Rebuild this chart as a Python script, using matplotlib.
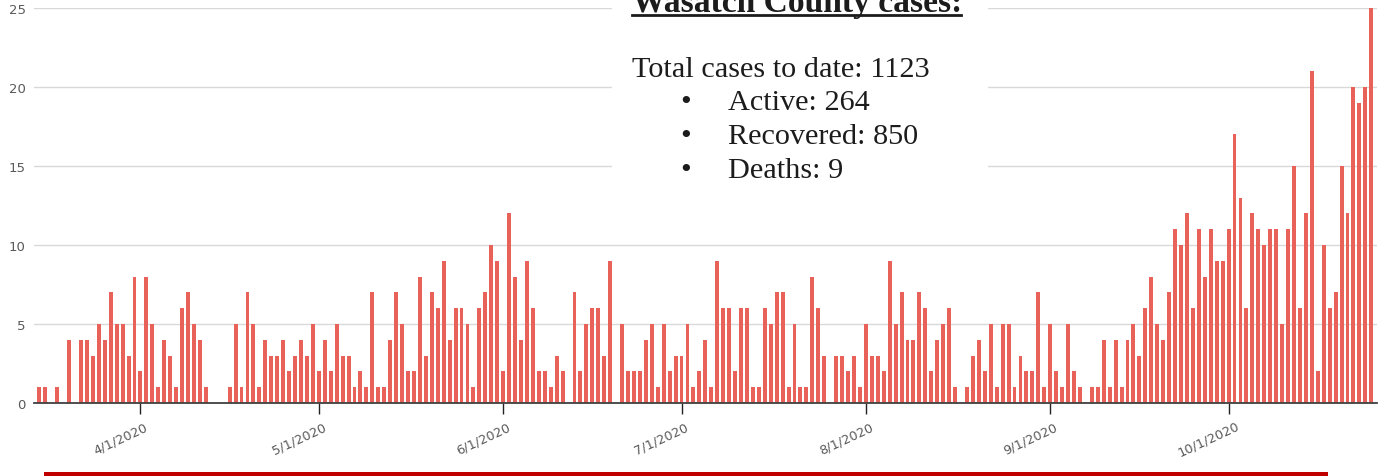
import matplotlib
matplotlib.use("Agg")
import matplotlib.pyplot as plt
import matplotlib.dates as mdates
from matplotlib.patches import Rectangle
from matplotlib.lines import Line2D
import matplotlib.transforms as mtransforms
import pandas as pd

# daily new cases, 3/15/2020 .. 10/25/2020
cases_mar = [1, 1, 0, 1, 0, 4, 0, 4, 4, 3, 5, 4, 7, 5, 5, 3, 8]
cases_apr = [2, 8, 5, 1, 4, 3, 1, 6, 7, 5, 4, 1, 0, 0, 0, 1, 5, 1, 7, 5,
             1, 4, 3, 3, 4, 2, 3, 4, 3, 5]
cases_may = [2, 4, 2, 5, 3, 3, 1, 2, 1, 7, 1, 1, 4, 7, 5, 2, 2, 8, 3, 7,
             6, 9, 4, 6, 6, 5, 1, 6, 7, 10, 9]
cases_jun = [2, 12, 8, 4, 9, 6, 2, 2, 1, 3, 2, 0, 7, 2, 5, 6, 6, 3, 9, 0,
             5, 2, 2, 2, 4, 5, 1, 5, 2, 3]
cases_jul = [3, 5, 1, 2, 4, 1, 9, 6, 6, 2, 6, 6, 1, 1, 6, 5, 7, 7, 1, 5,
             1, 1, 8, 6, 3, 0, 3, 3, 2, 3, 1]
cases_aug = [5, 3, 3, 2, 9, 5, 7, 4, 4, 7, 6, 2, 4, 5, 6, 1, 0, 1, 3, 4,
             2, 5, 1, 5, 5, 1, 3, 2, 2, 7, 1]
cases_sep = [5, 2, 1, 5, 2, 1, 0, 1, 1, 4, 1, 4, 1, 4, 5, 3, 6, 8, 5, 4,
             7, 11, 10, 12, 6, 11, 8, 11, 9, 9]
cases_oct = [11, 17, 13, 6, 12, 11, 10, 11, 11, 5, 11, 15, 6, 12, 21, 2, 10, 6, 7, 15,
             12, 20, 19, 20, 25]

cases = cases_mar + cases_apr + cases_may + cases_jun + cases_jul + cases_aug + cases_sep + cases_oct
dates = pd.date_range("2020-03-15", periods=len(cases), freq="D")
tick_dates = pd.date_range("2020-04-01", "2020-10-01", freq="MS")
tick_labels = [f"{d.month}/{d.day}/{d.year}" for d in tick_dates]

y_ticks = [0, 5, 10, 15, 20, 25]

title = "Wasatch County cases:"
total_line = "Total cases to date: 1123"
bullets = ["Active: 264", "Recovered: 850", "Deaths: 9"]

W, H = 1378, 477
fig = plt.figure(figsize=(W / 100, H / 100), dpi=100)
ax = fig.add_axes([34 / W, 73 / H, 1343 / W, 395 / H])

x = mdates.date2num(dates)
ax.bar(x, cases, width=0.66, color="#e8625a", zorder=2)

ax.set_xlim(x[0] - 0.9, x[-1] + 0.96)
ax.set_ylim(0, 25)

for s in ["top", "right", "left"]:
    ax.spines[s].set_visible(False)
ax.spines["bottom"].set_color("#404040")
ax.spines["bottom"].set_linewidth(1.3)
ax.spines["bottom"].set_zorder(3)

ax.set_yticks(y_ticks)
ax.tick_params(axis="y", length=0, pad=6, labelsize=9.5, labelcolor="#595959")
ax.yaxis.grid(True, color="#d9d9d9", lw=1)
ax.set_axisbelow(True)

ax.set_xticks(mdates.date2num(tick_dates))
ax.set_xticklabels(tick_labels, rotation=25, ha="center", va="center",
                   rotation_mode="anchor", fontsize=9.3, color="#595959")
ax.tick_params(axis="x", length=8, width=1, color="#222222", pad=17.5)
shift = mtransforms.ScaledTranslation(-20 / 100, 0, fig.dpi_scale_trans)
for lab in ax.get_xticklabels():
    lab.set_transform(lab.get_transform() + shift)

# white text panel over the chart
fig.add_artist(Rectangle((612 / W, 1 - 195 / H), 376 / W, 195 / H,
                         transform=fig.transFigure, facecolor="white",
                         edgecolor="none", zorder=2))
serif = "Liberation Serif"
ink = "#1c1c1c"
fig.text(632 / W, 1 - 12 / H, title, fontfamily=serif, fontsize=24.2,
         fontweight="bold", color=ink, va="baseline", zorder=3)
fig.add_artist(Line2D([632 / W, 961 / W], [1 - 15.5 / H, 1 - 15.5 / H],
                      transform=fig.transFigure, color=ink, lw=2, zorder=3))
fig.text(632 / W, 1 - 77 / H, total_line, fontfamily=serif, fontsize=21.8,
         color=ink, va="baseline", zorder=3)
for i, b in enumerate(bullets):
    yb = 1 - (110 + 34 * i) / H
    fig.text(686 / W, yb, "\u2022", fontfamily=serif, fontsize=21.8,
             color=ink, va="baseline", ha="center", zorder=3)
    fig.text(728 / W, yb, b, fontfamily=serif, fontsize=21.8,
             color=ink, va="baseline", zorder=3)

# red rule along the bottom
fig.add_artist(Rectangle((44 / W, 0), 1284 / W, 4.5 / H, transform=fig.transFigure,
                         facecolor="#c00000", edgecolor="none", zorder=3))

fig.savefig("out.png", dpi=100)
